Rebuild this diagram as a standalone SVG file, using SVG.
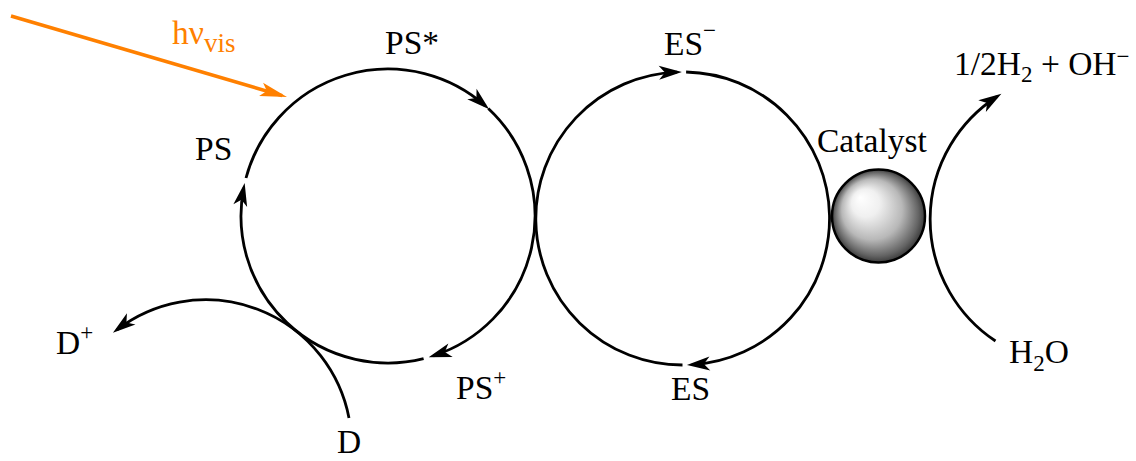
<svg xmlns="http://www.w3.org/2000/svg" width="1136" height="461" viewBox="0 0 1136 461">
<style>
.lbl{font-family:"Liberation Serif","Times New Roman",serif;font-size:33.5px;fill:#000}
.sm{font-size:23px}
.arc{fill:none;stroke:#000;stroke-width:2.8;marker-end:url(#ah)}
</style>
<defs>
<marker id="ah" markerUnits="userSpaceOnUse" markerWidth="34" markerHeight="20" viewBox="-24 -10 34 20" refX="0" refY="0" orient="auto" overflow="visible">
<path d="M5,0 L-18,-7 L-12,0 L-18,7 Z" fill="#000"/>
</marker>
<marker id="ahO" markerUnits="userSpaceOnUse" markerWidth="36" markerHeight="20" viewBox="-26 -10 36 20" refX="0" refY="0" orient="auto" overflow="visible">
<path d="M5,0 L-22,-7 L-16,0 L-22,7 Z" fill="#FF8000"/>
</marker>
<radialGradient id="sph" cx="0.5" cy="0.5" r="0.5" fx="0.3" fy="0.3">
<stop offset="0" stop-color="#ffffff"/>
<stop offset="0.3" stop-color="#f0f0f0"/>
<stop offset="0.65" stop-color="#b8b8b8"/>
<stop offset="0.9" stop-color="#646464"/>
<stop offset="1" stop-color="#3a3a3a"/>
</radialGradient>
</defs>

<g id="connectors">
<path class="arc" d="M246.0,178.0 A147,147 0 0 1 485.4,105.9"/>
<path class="arc" d="M488.3,108.5 A147,147 0 0 1 433.4,355.8"/>
<path class="arc" d="M423.6,358.6 A147,147 0 0 1 243.7,187.9"/>
<path class="arc" d="M682.5,365.0 A146.5,146.5 0 0 1 676.9,72.1"/>
<path class="arc" d="M686.1,72.0 A146.5,146.5 0 0 1 691.9,364.7"/>
<path class="arc" d="M995.5,341 A146,146 0 0 1 997.2,96.5"/>
<path class="arc" d="M349,418 A146,146 0 0 0 116.9,329.8"/>
<line x1="11" y1="16" x2="282.2" y2="95.6" stroke="#FF8000" stroke-width="3.5" marker-end="url(#ahO)"/>
</g>

<g id="node-catalyst">
<circle cx="878.5" cy="216" r="46.5" fill="url(#sph)" stroke="#000" stroke-width="2.5"/>
<text class="lbl" x="817" y="152">Catalyst</text>
</g>
<g id="node-hv"><text class="lbl" x="172" y="44" style="fill:#FF8000">hν<tspan font-size="27" dy="8">vis</tspan></text></g>
<g id="node-ps-star"><text class="lbl" x="385" y="54">PS*</text></g>
<g id="node-ps"><text class="lbl" x="195" y="160">PS</text></g>
<g id="node-ps-plus"><text class="lbl" x="456" y="399">PS<tspan class="sm" dy="-14">+</tspan></text></g>
<g id="node-d-plus"><text class="lbl" x="56" y="354">D<tspan class="sm" dy="-14">+</tspan></text></g>
<g id="node-d"><text class="lbl" x="337" y="453">D</text></g>
<g id="node-es-minus"><text class="lbl" x="664" y="55">ES<tspan class="sm" dy="-17">−</tspan></text></g>
<g id="node-es"><text class="lbl" x="671" y="400">ES</text></g>
<g id="node-products"><text class="lbl" x="954" y="75">1/2H<tspan class="sm" dy="7">2</tspan><tspan dy="-7"> + OH</tspan><tspan class="sm" dy="-11">−</tspan></text></g>
<g id="node-water"><text class="lbl" x="1009" y="363">H<tspan class="sm" dy="8">2</tspan><tspan dy="-8">O</tspan></text></g>
</svg>
